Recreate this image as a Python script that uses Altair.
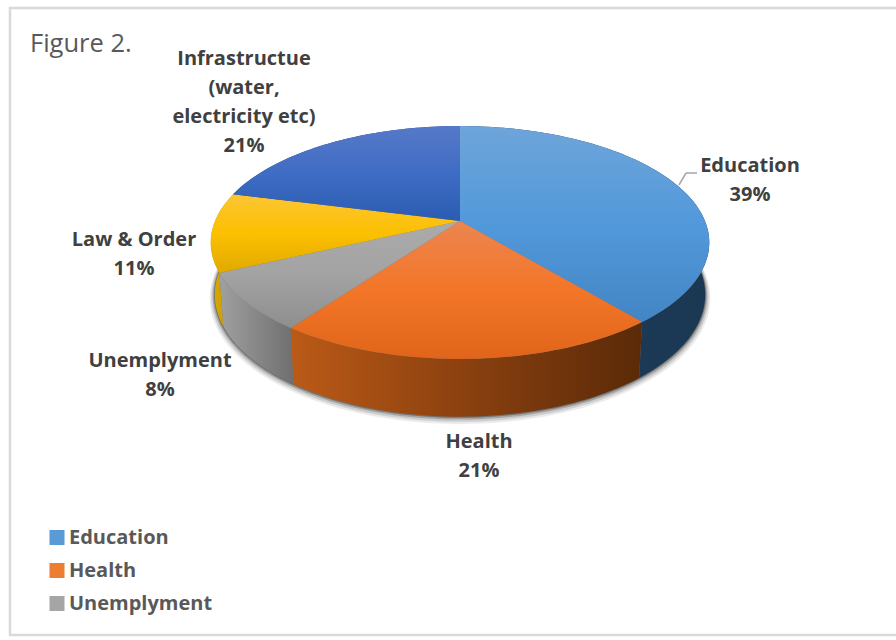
import math
import altair as alt
import pandas as pd

# Slice data
categories = ["Education", "Health", "Unemplyment", "Law & Order", "Infrastructue"]
label_names = ["Education", "Health", "Unemplyment", "Law & Order",
               "Infrastructue\n(water,\nelectricity etc)"]
shares = [39, 21, 8, 11, 21]
legend_items = ["Education", "Health", "Unemplyment"]
legend_colors = ["#5b9bd5", "#ed7d31", "#a5a5a5"]

# Perspective disc: the near edge is drawn larger than the far edge
TILT = -0.1845
UNIT = 245.0
CX, CY = 460.0, 221.0
TOP_A, TOP_B, TOP_Y = 245.0, 112.5, 221.0
BASE_A, BASE_B, BASE_Y = 241.0, 118.0, 272.0


def project(turn, a, b, y0, dx=0.0):
    u = math.sin(turn)
    v = -math.cos(turn)
    w = 1 + TILT * v
    return ((CX + dx + a * u / w - CX) / UNIT, (y0 + b * v / w - CY) / UNIT)


def arc(start, end, a, b, y0, dx=0.0):
    n = max(2, int(abs(end - start) / math.radians(1.5)))
    return [project(start + (end - start) * k / n, a, b, y0, dx) for k in range(n + 1)]


def frame(points):
    return pd.DataFrame({"i": range(len(points)),
                         "x": [p[0] for p in points],
                         "y": [p[1] for p in points]})


def grad(stops, horizontal=False):
    n = len(stops) - 1
    return alt.Gradient(
        gradient="linear",
        x1=0, y1=0,
        x2=1 if horizontal else 0,
        y2=0 if horizontal else 1,
        stops=[alt.GradientStop(color=c, offset=k / n) for k, c in enumerate(stops)],
    )


x_scale = alt.Scale(domain=[-CX / UNIT, (896 - CX) / UNIT], range=[0, 896])
y_scale = alt.Scale(domain=[-CY / UNIT, (640 - CY) / UNIT], range=[0, 640])


def polygon(points, fill, opacity=1.0):
    return alt.Chart(frame(points)).mark_line(
        fill=fill, strokeWidth=0, fillOpacity=opacity, clip=False
    ).encode(
        x=alt.X("x:Q", scale=x_scale, axis=None),
        y=alt.Y("y:Q", scale=y_scale, axis=None),
        order=alt.Order("i:Q"),
    )


top_fills = [
    ["#6ea5da", "#5299db", "#4385c4"],
    ["#ec8550", "#f37628", "#e0651a"],
    ["#ababab", "#a3a3a3", "#8e8e8e"],
    ["#fcc535", "#fcc000", "#e0a900"],
    ["#5679c9", "#3f6cc4", "#2b5cb2"],
]
wall_fills = [
    ["#1d3d5c", "#1b3853"],
    ["#bb5a17", "#8a400f", "#5a2a08"],
    ["#a0a0a0", "#6f6f6f"],
    ["#d9a800", "#c79a00"],
    ["#1f3f80", "#1f3f80"],
]

# Cumulative angle of every slice boundary
edges = [0.0]
for share in shares:
    edges.append(edges[-1] + share / sum(shares) * 2 * math.pi)

layers = []

# Frame around the chart; its right side runs past the page edge
layers.append(
    alt.Chart(pd.DataFrame({"a": [0]})).mark_rect(
        fill="white", stroke="#d9d9d9", strokeWidth=2.5
    ).encode(x=alt.value(10), x2=alt.value(910), y=alt.value(8), y2=alt.value(635))
)

# Soft shadow under the disc
full = [0.0, 2 * math.pi]
for grow, alpha in [(5.0, 0.08), (3.5, 0.12), (2.0, 0.2), (0.8, 0.3)]:
    layers.append(polygon(
        arc(full[0], full[1], BASE_A + grow, BASE_B + grow * 0.7, BASE_Y + grow * 0.6),
        "#000000", alpha))

# Side walls, far slices first so nearer ones paint over them
for idx in [0, 4, 3, 2, 1]:
    start, end = edges[idx], edges[idx + 1]
    outline = arc(start, end, TOP_A, TOP_B, TOP_Y) + arc(end, start, BASE_A, BASE_B, BASE_Y)
    layers.append(polygon(outline, grad(wall_fills[idx], horizontal=True)))

# Top faces
for idx in range(len(shares)):
    start, end = edges[idx], edges[idx + 1]
    outline = [(0.0, 0.0)] + arc(start, end, TOP_A, TOP_B, TOP_Y) + [(0.0, 0.0)]
    layers.append(polygon(outline, grad(top_fills[idx])))

# Leader from the Education label to its slice
for x1, y1, x2, y2 in [(679, 185, 686, 173), (686, 173, 697, 173)]:
    layers.append(
        alt.Chart(pd.DataFrame({"a": [0]})).mark_rule(color="#a6a6a6", strokeWidth=1.5).encode(
            x=alt.value(x1), y=alt.value(y1), x2=alt.value(x2), y2=alt.value(y2))
    )

# Data labels; each anchor is the centre of the label's first line
anchors = [(750, 166), (479, 442), (160, 361), (134, 240), (244, 59)]
for name, share, (ax, ay) in zip(label_names, shares, anchors):
    layers.append(
        alt.Chart(pd.DataFrame({"t": [f"{name}\n{share}%"]})).mark_text(
            font="Open Sans", fontSize=20, fontWeight="bold", color="#404040",
            align="center", baseline="middle", lineBreak="\n", lineHeight=29,
        ).encode(x=alt.value(ax), y=alt.value(ay), text="t:N")
    )

# Caption
layers.append(
    alt.Chart(pd.DataFrame({"t": ["Figure 2."]})).mark_text(
        font="Open Sans", fontSize=25.5, color="#595959", align="left", baseline="middle",
    ).encode(x=alt.value(30), y=alt.value(44), text="t:N")
)

# Legend for the first three categories
layers.append(
    alt.Chart(pd.DataFrame({"c": legend_items})).mark_square(opacity=0).encode(
        x=alt.value(0), y=alt.value(0),
        color=alt.Color(
            "c:N",
            scale=alt.Scale(domain=legend_items, range=legend_colors),
            legend=alt.Legend(
                orient="none", legendX=47, legendY=524, title=None,
                symbolType="square", symbolSize=225, symbolOpacity=1, symbolStrokeWidth=0,
                labelFont="Open Sans", labelFontSize=20, labelFontWeight="bold",
                labelColor="#595959", labelOffset=2, rowPadding=6, clipHeight=27,
            ),
        ),
    )
)

chart = alt.layer(*layers).properties(
    width=896, height=640, padding=0, autosize=alt.AutoSizeParams(type="none"),
    background="white",
).configure_view(stroke=None)

chart.save("out.html", embed_options={"renderer": "svg", "actions": False})
